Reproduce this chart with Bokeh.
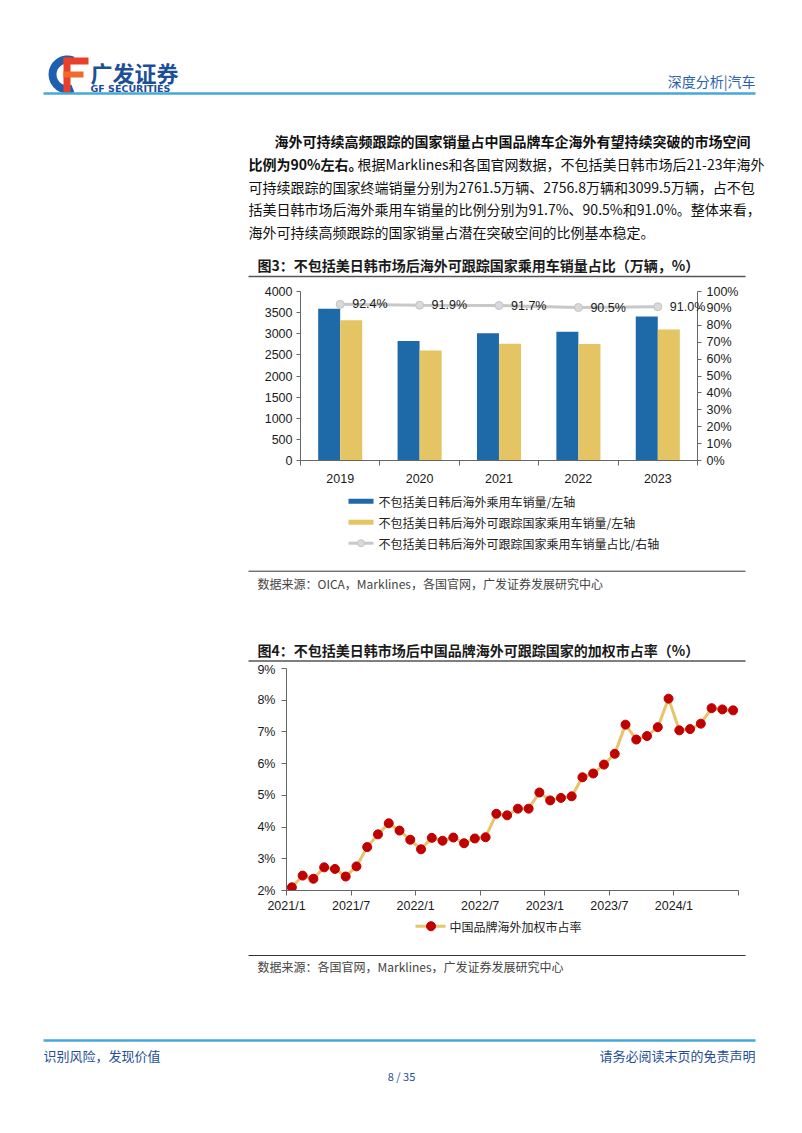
from bokeh.plotting import figure
from bokeh.layouts import column
from bokeh.models import (Range1d, FixedTicker, LinearAxis, NumeralTickFormatter, PrintfTickFormatter)
from bokeh.core.properties import value
from bokeh.embed import file_html
from bokeh.resources import INLINE

# ---------------- data ----------------
years = ["2019", "2020", "2021", "2022", "2023"]
total_sales = [3590, 2830, 3011, 3046, 3406]          # 不包括美日韩后海外乘用车销量（万辆）
tracked_sales = [3318, 2601, 2761.5, 2756.8, 3099.5]  # 可跟踪国家乘用车销量（万辆）
tracked_share = [0.924, 0.919, 0.917, 0.905, 0.910]   # 占比

months = [f"{y}/{m}" for y in (2021, 2022, 2023, 2024) for m in range(1, 13)][:42]
cn_share = [2.10, 2.47, 2.37, 2.73, 2.68, 2.44,
            2.76, 3.37, 3.77, 4.12, 3.89, 3.60,
            3.30, 3.66, 3.57, 3.67, 3.49, 3.64,
            3.68, 4.42, 4.37, 4.58, 4.58, 5.09,
            4.84, 4.92, 4.97, 5.57, 5.69, 5.97,
            6.31, 7.23, 6.76, 6.87, 7.15, 8.05,
            7.05, 7.09, 7.26, 7.75, 7.71, 7.68]
x_tick_labels = ["2021/1", "2021/7", "2022/1", "2022/7", "2023/1", "2023/7", "2024/1", ""]

# ---------------- styles ----------------
CJK = value("Noto Sans CJK SC")
LAT = "Liberation Sans"
BLUE = "#1e69a8"
GOLD = "#e5c464"
GREY = "#c8c8c8"
RED = "#c00000"
HDR_BLUE = "#1d4f96"
LINE_BLUE = "#45a8d8"
AXIS = "#666666"


def canvas(y0, y1):
    f = figure(width=802, height=y1 - y0, x_range=Range1d(0, 802), y_range=Range1d(y1, y0),
               output_backend="svg", toolbar_location=None, x_axis_location=None,
               y_axis_location=None, min_border=0, outline_line_color=None, frame_align=False)
    f.xgrid.visible = False
    f.ygrid.visible = False
    return f


def txt(f, x, y, s, size="14px", color="#111111", bold=False, align="left", font=CJK):
    f.text(x=[x], y=[y], text=[s], text_font=font, text_font_size=size, text_color=color,
           text_font_style="bold" if bold else "normal", text_align=align, text_baseline="middle")


def hline(f, x0, x1, y, color, w):
    f.line(x=[x0, x1], y=[y, y], line_color=color, line_width=w)


# ---------------- A: header + paragraph + fig3 title ----------------
A = canvas(0, 282)
# logo
A.annular_wedge(x=[67], y=[74], inner_radius=11, outer_radius=19, start_angle=1.2, end_angle=5.08,
                direction="anticlock", fill_color="#1f5fb0", line_color=None)
A.quad(left=[63], right=[88], top=[57], bottom=[64], fill_color="#e8402a", line_color=None)
A.quad(left=[63], right=[70], top=[57], bottom=[92], fill_color="#e8402a", line_color=None)
A.quad(left=[63], right=[83], top=[71], bottom=[77], fill_color="#f06a2a", line_color=None)
txt(A, 90, 71, "广发证券", size="22px", color=HDR_BLUE, bold=True)
txt(A, 90, 87.5, "GF SECURITIES", size="9.5px", color=HDR_BLUE, bold=True, font=value("DejaVu Sans"))
txt(A, 755, 80, "深度分析|汽车", size="14px", color="#2a62ad", align="right")
hline(A, 43, 755, 93, LINE_BLUE, 2.5)

txt(A, 274, 140, "海外可持续高频跟踪的国家销量占中国品牌车企海外有望持续突破的市场空间", bold=True)
txt(A, 248, 163, "比例为90%左右。", bold=True)
txt(A, 357, 163, "根据Marklines和各国官网数据，不包括美日韩市场后21-23年海外")
txt(A, 248, 186, "可持续跟踪的国家终端销量分别为2761.5万辆、2756.8万辆和3099.5万辆，占不包")
txt(A, 248, 208, "括美日韩市场后海外乘用车销量的比例分别为91.7%、90.5%和91.0%。整体来看，")
txt(A, 248, 231, "海外可持续高频跟踪的国家销量占潜在突破空间的比例基本稳定。")

txt(A, 257, 264, "图3：不包括美日韩市场后海外可跟踪国家乘用车销量占比（万辆，%）", size="14px",
    color="#1a1a1a", bold=True)
hline(A, 248, 745, 276, "#555555", 1.5)

# ---------------- B: chart 3 ----------------
n = len(years)
B = figure(width=802, height=208, x_range=Range1d(0, n), y_range=Range1d(0, 4000),
           output_backend="svg", toolbar_location=None, min_border_left=300, min_border_right=105,
           min_border_top=9, min_border_bottom=30, outline_line_color=None, frame_align=False)
B.xgrid.visible = False
B.ygrid.visible = False
B.extra_y_ranges = {"pct": Range1d(0, 1)}

centers = [i + 0.5 for i in range(n)]
B.vbar(x=[c - 0.139 for c in centers], top=total_sales, width=0.277, fill_color=BLUE, line_color=None)
B.vbar(x=[c + 0.139 for c in centers], top=tracked_sales, width=0.277, fill_color=GOLD, line_color=None)
B.line(x=centers, y=tracked_share, y_range_name="pct", line_color=GREY, line_width=3)
B.scatter(x=centers, y=tracked_share, y_range_name="pct", size=8, fill_color="#d9d9d9",
          line_color="#c4c4c4")
# data labels on the overlay level so the last one may run past the frame edge
B.text(x=centers, y=tracked_share, text=[f"{v * 100:.1f}%" for v in tracked_share], y_range_name="pct",
       x_offset=12, text_baseline="middle", text_align="left", text_font=value(LAT),
       text_font_size="12.5px", text_color="#1a1a1a", level="overlay")

right_ax = LinearAxis(y_range_name="pct")
B.add_layout(right_ax, "right")

for ax in (B.yaxis[0], right_ax):
    ax.major_tick_out = 4
    ax.major_tick_in = 0
    ax.minor_tick_line_color = None
    ax.axis_line_color = AXIS
    ax.major_tick_line_color = AXIS
    ax.major_label_text_font = LAT
    ax.major_label_text_font_size = "12.5px"
    ax.major_label_text_color = "#1a1a1a"
B.yaxis[0].ticker = FixedTicker(ticks=list(range(0, 4001, 500)))
B.yaxis[0].major_label_standoff = 4
right_ax.ticker = FixedTicker(ticks=[0, 0.1, 0.2, 0.3, 0.4, 0.5, 0.6, 0.7, 0.8, 0.9, 1.0])
right_ax.formatter = NumeralTickFormatter(format="0%")
right_ax.major_label_standoff = 5

xa = B.xaxis[0]
xa.ticker = FixedTicker(ticks=centers, minor_ticks=list(range(n + 1)))
xa.major_label_overrides = {c: y for c, y in zip(centers, years)}
xa.major_tick_line_color = None
xa.major_tick_out = 0
xa.major_tick_in = 0
xa.minor_tick_out = 5
xa.minor_tick_in = 0
xa.minor_tick_line_color = AXIS
xa.axis_line_color = AXIS
xa.major_label_standoff = 8
xa.major_label_text_font = LAT
xa.major_label_text_font_size = "12.5px"
xa.major_label_text_color = "#1a1a1a"

# ---------------- C: legend 3, source, fig4 title ----------------
C = canvas(490, 662)
C.rect(x=[360.5], y=[500.7], width=25, height=5, fill_color=BLUE, line_color=None)
C.rect(x=[360.5], y=[521.7], width=25, height=5, fill_color=GOLD, line_color=None)
hline(C, 348, 373, 542.7, GREY, 3)
C.scatter(x=[360.5], y=[542.7], size=7, fill_color="#d9d9d9", line_color="#c4c4c4")
txt(C, 378, 500.7, "不包括美日韩后海外乘用车销量/左轴", size="12px", color="#222222")
txt(C, 378, 521.7, "不包括美日韩后海外可跟踪国家乘用车销量/左轴", size="12px", color="#222222")
txt(C, 378, 542.7, "不包括美日韩后海外可跟踪国家乘用车销量占比/右轴", size="12px", color="#222222")
hline(C, 248, 745, 570.7, "#333333", 1)
txt(C, 257, 583, "数据来源：OICA，Marklines，各国官网，广发证券发展研究中心", size="12px", color="#444444")
txt(C, 257, 649, "图4：不包括美日韩市场后中国品牌海外可跟踪国家的加权市占率（%）", size="14px",
    color="#1a1a1a", bold=True)
hline(C, 248, 745, 660.5, "#555555", 1.5)

# ---------------- D: chart 4 ----------------
D = figure(width=802, height=253, x_range=Range1d(0, len(months)), y_range=Range1d(2, 9),
           output_backend="svg", toolbar_location=None, min_border_left=286, min_border_right=64,
           min_border_top=6, min_border_bottom=25, outline_line_color=None, frame_align=False)
D.xgrid.visible = False
D.ygrid.visible = False
mx = [i + 0.5 for i in range(len(months))]
D.line(x=mx, y=cn_share, line_color="#e8c36a", line_width=3)
D.scatter(x=mx, y=cn_share, size=9, fill_color=RED, line_color=RED)

ya = D.yaxis[0]
ya.ticker = FixedTicker(ticks=[2, 3, 4, 5, 6, 7, 8, 9])
ya.formatter = PrintfTickFormatter(format="%d%%")
ya.major_label_standoff = 6
xb = D.xaxis[0]
tick_pos = list(range(0, len(months) + 1, 6))
xb.ticker = FixedTicker(ticks=tick_pos)
xb.major_label_overrides = {t: l for t, l in zip(tick_pos, x_tick_labels)}
xb.major_label_standoff = 3
for ax in (ya, xb):
    ax.major_tick_out = 5
    ax.major_tick_in = 0
    ax.minor_tick_line_color = None
    ax.axis_line_color = AXIS
    ax.major_tick_line_color = AXIS
    ax.major_label_text_font = LAT
    ax.major_label_text_font_size = "12.5px"
    ax.major_label_text_color = "#1a1a1a"

# ---------------- E: legend 4, source, footer ----------------
E = canvas(915, 1133)
hline(E, 415, 445, 925.7, "#e8c36a", 3)
E.scatter(x=[430.5], y=[925.7], size=9, fill_color=RED, line_color=RED)
txt(E, 449, 925.7, "中国品牌海外加权市占率", size="12px", color="#222222")
hline(E, 248, 745, 955, "#333333", 1)
txt(E, 257, 966, "数据来源：各国官网，Marklines，广发证券发展研究中心", size="12px", color="#444444")
hline(E, 43, 755, 1040, LINE_BLUE, 2.5)
txt(E, 43, 1055, "识别风险，发现价值", size="13px", color=HDR_BLUE)
txt(E, 755, 1055, "请务必阅读末页的免责声明", size="13px", color=HDR_BLUE, align="right")
txt(E, 401, 1075, "8 / 35", size="11px", color=HDR_BLUE, align="center")

page = column(A, B, C, D, E, spacing=0)
open("out.html", "w").write(file_html(page, INLINE))
